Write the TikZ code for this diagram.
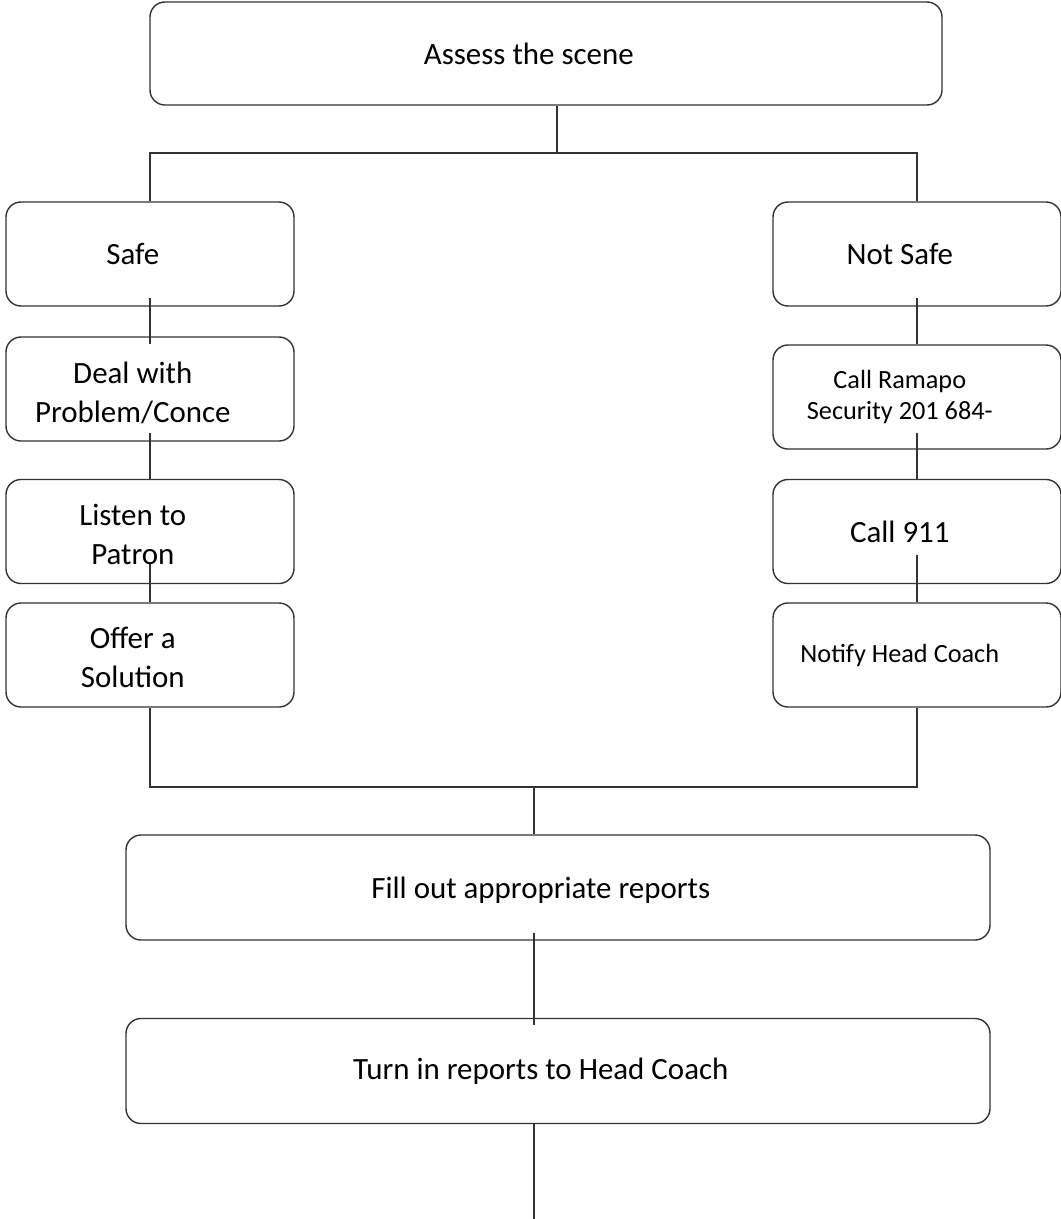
\documentclass[tikz,border=0pt]{standalone}
\usepackage{fontspec}
\setmainfont{Carlito}
\usepackage{tikz}
\usetikzlibrary{positioning}
\tikzset{box/.style={draw=black!80, line width=1pt, rounded corners=0.375cm,
                     minimum width=7.2cm, minimum height=2.6cm, inner sep=0pt},
         wide box/.style={box, minimum width=21.6cm, minimum height=2.625cm},
         caption/.style={xshift=-0.43cm, align=center},
         small caption/.style={caption, font=\fontsize{18.7}{22.7}\selectfont},
         link/.style={draw=black!80, line width=1pt}
        }

\begin{document}
\begin{tikzpicture}[font=\fontsize{22}{28}\selectfont]
\useasboundingbox (0,0) rectangle (26.525,-30.475);

\node[box, minimum width=19.8cm, minimum height=2.575cm, label={[caption]center:Assess the scene}](assess) at (13.65,-1.3375){};

\node[box, label={[caption]center:Safe}](safe) at (3.75,-6.35){};
\node[box, label={[caption]center:Not Safe}](not_safe) at (22.925,-6.35){};

% safe side
\node[box, below of = safe, node distance = 3.375cm, label={[caption, yshift=-0.1cm]center:{Deal with\\Problem/Conce}}](deal){};
\node[box, below of = deal, node distance = 3.5625cm, label={[caption, yshift=-0.08cm]center:{Listen to\\Patron}}](listen){};
\node[box, below of = listen, node distance = 3.0875cm, label={[caption, yshift=-0.06cm]center:{Offer a\\Solution}}](offer){};

% not safe side
\node[box, below of = not_safe, node distance = 3.575cm, label={[small caption]center:{Call Ramapo\\Security 201 684-}}](ramapo){};
\node[box, below of = ramapo, node distance = 3.3625cm, label={[caption]center:Call 911}](call_911){};
\node[box, below of = call_911, node distance = 3.0875cm, label={[small caption]center:Notify Head Coach}](notify){};

\node[wide box, label={[caption, yshift=-0.06cm]center:Fill out appropriate reports}](reports) at (13.95,-22.1875){};
\node[wide box, below of = reports, node distance = 4.5875cm, label={[caption]center:Turn in reports to Head Coach}](hand_in){};

\coordinate (fork) at (13.925,-3.825);
\coordinate (join) at (13.35,-19.675);
\coordinate (tail) at (13.35,-30.475);

\draw[link](assess.south -| fork) -- (fork);
\draw[link](safe.north) |- (fork) -| (not_safe.north);

\draw[link](safe.south) ++(0,0.225) -- (deal.north) -- ++(0,-0.2);
\draw[link](deal.south) ++(0,0.225) -- (listen.north);
\draw[link](listen.south) ++(0,0.5) -- (offer.north);

\draw[link](not_safe.south) ++(0,0.225) -- (ramapo.north);
\draw[link](ramapo.south) ++(0,0.425) -- (call_911.north);
\draw[link](call_911.south) ++(0,0.725) -- (notify.north);

\draw[link](offer.south) |- (join) -| (notify.south);
\draw[link](join) -- (reports.north -| join);
\draw[link](reports.south -| join) ++(0,0.2) -- (hand_in.north -| join) -- ++(0,-0.175);
\draw[link](hand_in.south -| tail) -- (tail);

\end{tikzpicture}
\end{document}
